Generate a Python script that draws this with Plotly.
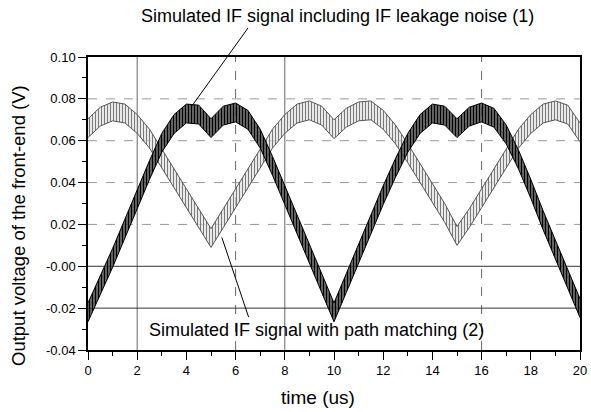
import plotly.graph_objects as go

# ---- data ----
time_us = [i * 0.5 for i in range(41)]

# Curve (1): simulated IF signal including IF leakage noise (band centre, V)
sig_leak = [-0.022, -0.009, 0.004, 0.018, 0.032, 0.046, 0.059, 0.068, 0.073, 0.0725,
            0.066, 0.072, 0.0735, 0.070, 0.061, 0.048, 0.034, 0.020, 0.006, -0.008,
            -0.022, -0.008, 0.006, 0.020, 0.034, 0.047, 0.059, 0.068, 0.073, 0.072,
            0.066, 0.0715, 0.0735, 0.071, 0.063, 0.051, 0.037, 0.022, 0.008, -0.006,
            -0.020]

# Curve (2): simulated IF signal with path matching (band centre, V)
sig_match = [0.066, 0.0715, 0.074, 0.073, 0.068, 0.061, 0.0515, 0.042, 0.0325, 0.023,
             0.0135, 0.023, 0.0325, 0.042, 0.0515, 0.061, 0.068, 0.073, 0.0745, 0.072,
             0.0655, 0.071, 0.074, 0.0745, 0.070, 0.063, 0.054, 0.0445, 0.035, 0.0255,
             0.0145, 0.023, 0.0325, 0.042, 0.0515, 0.061, 0.068, 0.073, 0.0745, 0.0725,
             0.064]

ripple = 0.0045  # half height of the noise band (V)

x_ticks = [0, 2, 4, 6, 8, 10, 12, 14, 16, 18, 20]
y_ticks = [-0.04, -0.02, 0.00, 0.02, 0.04, 0.06, 0.08, 0.10]
y_ticktext = ["-0.04", "-0.02", "-0.00", "0.02", "0.04", "0.06", "0.08", "0.10"]

v_grid = [2, 6, 8, 16]
h_grid_solid = [0.0, -0.02]
h_grid_dash = [0.02, 0.04, 0.06, 0.08]

label1 = "Simulated IF signal including IF leakage noise (1)"
label2 = "Simulated IF signal with path matching (2)"
x_title = "time (us)"
y_title = "Output voltage of the front-end (V)"

FONT = "Liberation Sans, Arial, sans-serif"

# plot-area pixel geometry (used to place paper-referenced text)
L, R, T, B = 88, 580, 57, 350
W, H = R - L, B - T


def px(xp):
    return (xp - L) / W


def py(yp):
    return (B - yp) / H


fig = go.Figure()


def add_band(y, line_col, fg, solidity, name):
    lo = [v - ripple for v in y]
    hi = [v + ripple for v in y]
    fig.add_trace(go.Scatter(x=time_us, y=lo, mode="lines",
                             line=dict(color=line_col, width=1),
                             showlegend=False, hoverinfo="skip"))
    fig.add_trace(go.Scatter(x=time_us, y=hi, mode="lines", fill="tonexty",
                             fillcolor="rgba(255,255,255,0)",
                             fillpattern=dict(shape="|", size=3, solidity=solidity,
                                              fgcolor=fg, bgcolor="rgba(255,255,255,0.6)",
                                              fillmode="replace"),
                             line=dict(color=line_col, width=1),
                             name=name, showlegend=False))


add_band(sig_match, "#555555", "#7a7a7a", 0.45, "path matching (2)")
add_band(sig_leak, "#000000", "#000000", 0.75, "leakage noise (1)")

shapes = []
for xv in v_grid:
    shapes.append(dict(type="line", xref="x", yref="y", x0=xv, x1=xv, y0=-0.04, y1=0.10,
                       line=dict(color="#666666", width=1, dash="dash" if xv in (6, 16) else "solid"),
                       layer="below"))
for yv in h_grid_solid:
    shapes.append(dict(type="line", xref="x", yref="y", x0=0, x1=20, y0=yv, y1=yv,
                       line=dict(color="#333333", width=1), layer="below"))
for yv in h_grid_dash:
    shapes.append(dict(type="line", xref="x", yref="y", x0=0, x1=20, y0=yv, y1=yv,
                       line=dict(color="#999999", width=1, dash="dash"), layer="below"))

# pointer lines for the labels
shapes.append(dict(type="line", xref="paper", yref="paper",
                   x0=px(248), y0=py(28),
                   x1=4.23 / 20, y1=(0.0767 + 0.04) / 0.14,
                   line=dict(color="black", width=1)))
shapes.append(dict(type="line", xref="x", yref="y",
                   x0=5.44, y0=0.0138, x1=6.53, y1=-0.0243,
                   line=dict(color="black", width=1)))


def ann(text, xp, yp, size, angle=0):
    return dict(text=text, xref="paper", yref="paper", x=px(xp), y=py(yp),
                xanchor="center", yanchor="middle", showarrow=False, textangle=angle,
                font=dict(family=FONT, size=size, color="black"))


annotations = [
    ann(label1, 337, 16, 18),
    ann(label2, 316, 330, 18),
    ann(x_title, 318, 397, 19),
    ann(y_title, 19, 226, 18.5, -90),
]

fig.update_layout(
    width=591, height=412,
    margin=dict(l=L, r=591 - R, t=T, b=412 - B, autoexpand=False),
    paper_bgcolor="white", plot_bgcolor="white",
    font=dict(family=FONT, color="black"),
    shapes=shapes, annotations=annotations,
    showlegend=False,
    xaxis=dict(range=[0, 20], tickvals=x_ticks, ticks="outside", ticklen=8,
               tickcolor="black", tickwidth=1, showgrid=False, zeroline=False,
               showline=True, linecolor="black", linewidth=1.5, mirror=True,
               automargin=False, ticklabeloverflow="allow",
               tickfont=dict(family=FONT, size=13),
               minor=dict(dtick=1, ticks="outside", ticklen=4, tickcolor="black", showgrid=False)),
    yaxis=dict(range=[-0.04, 0.10], tickvals=y_ticks, ticktext=y_ticktext,
               ticks="outside", ticklen=8, tickcolor="black", tickwidth=1,
               showgrid=False, zeroline=False, showline=True, linecolor="black",
               linewidth=1.5, mirror=True, automargin=False,
               tickfont=dict(family=FONT, size=13),
               minor=dict(dtick=0.01, ticks="outside", ticklen=4, tickcolor="black", showgrid=False)),
)

fig.write_html("out.html")
